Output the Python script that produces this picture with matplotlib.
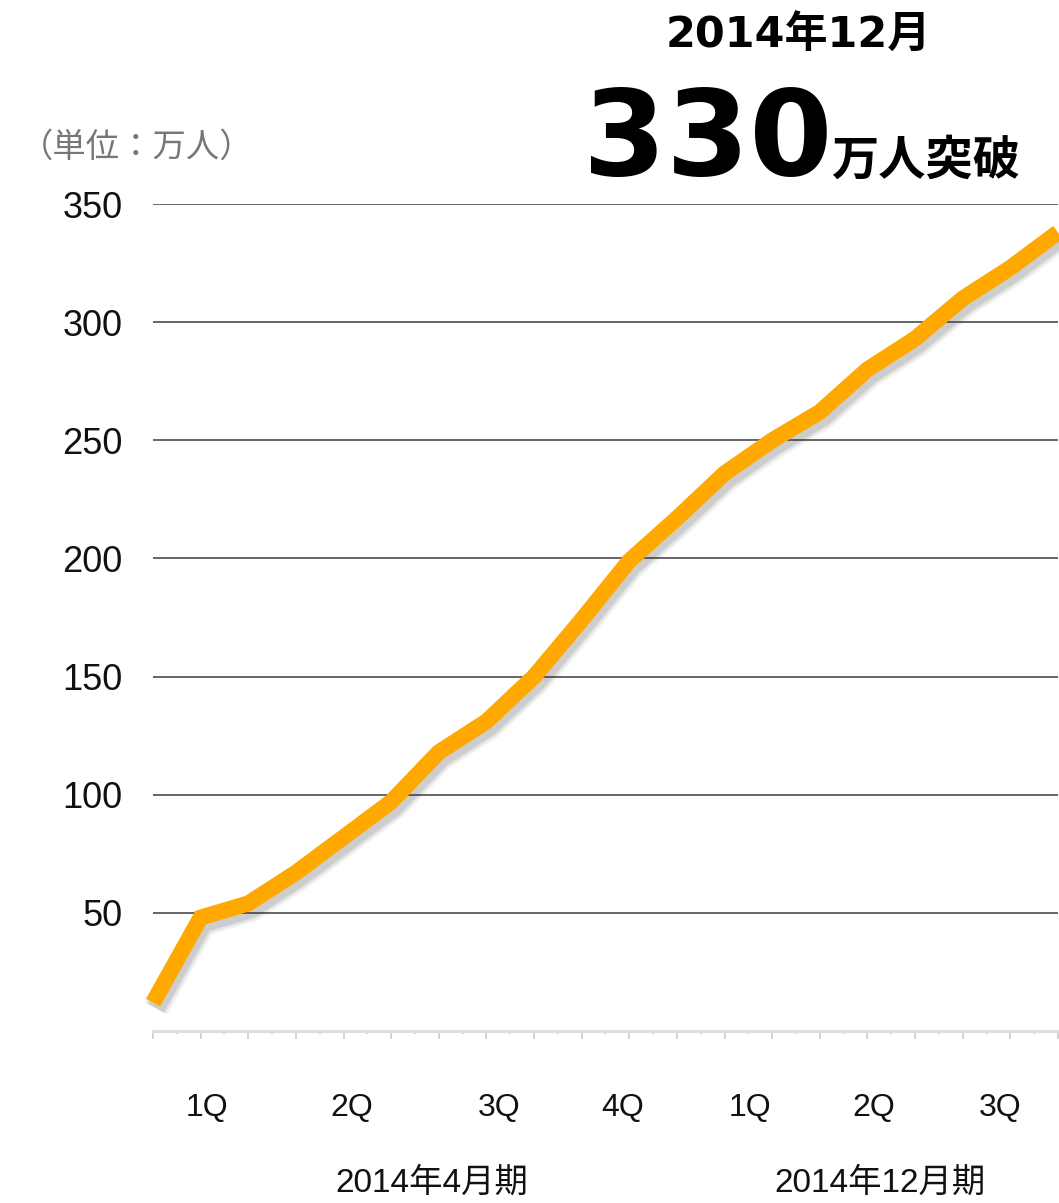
import matplotlib.pyplot as plt
import matplotlib.patheffects as pe
import matplotlib.transforms as mtransforms
import numpy as np

# monthly cumulative users (10k people)
months = np.arange(20)
users = [12, 48, 54, 67, 82, 97, 118, 131, 150, 174,
         199, 217, 236, 250, 262, 280, 293, 310, 323, 338]

y_ticks = [50, 100, 150, 200, 250, 300, 350]
quarter_labels = ['1Q', '2Q', '3Q', '4Q', '1Q', '2Q', '3Q']
quarter_pos = [1.13, 4.18, 7.26, 9.85, 12.53, 15.14, 17.78]
period_labels = ['2014年4月期', '2014年12月期']
period_pos = [5.86, 15.26]

LAT = ['Liberation Sans', 'Noto Sans CJK JP']
CJK = ['Noto Sans CJK JP', 'DejaVu Sans']
BIG = ['DejaVu Sans', 'Noto Sans CJK JP']
plt.rcParams['font.family'] = LAT

fig = plt.figure(figsize=(10.59, 12.03), dpi=100)
ax = fig.add_axes([0.1445, 0.143, 0.8545, 0.6874])

for v in y_ticks:
    ax.axhline(v, color='#5a5a5a', lw=1.3, zorder=1)

# soft shadow, built from a few wider transparent strokes
shadow = [pe.SimpleLineShadow(offset=(2, -4), shadow_color='#333333', alpha=a, linewidth=w)
          for a, w in [(0.06, 19), (0.08, 16), (0.12, 13)]]
ax.plot(months, users, color='#FFA800', lw=11.5, zorder=3,
        solid_capstyle='butt', solid_joinstyle='miter', clip_on=False,
        path_effects=shadow + [pe.Normal()])

ax.set_xlim(0, 19)
ax.set_ylim(0, 350)
for s in ['top', 'right', 'left']:
    ax.spines[s].set_visible(False)
ax.spines['bottom'].set_color('#dddddd')
ax.spines['bottom'].set_linewidth(2.2)

ax.set_yticks(y_ticks)
ax.set_yticklabels([str(v) for v in y_ticks])
ax.tick_params(axis='y', length=0, pad=22, labelsize=26, labelcolor='#111111')
ax.set_xticks(months)
ax.set_xticks(months[:-1] + 0.5, minor=True)
ax.set_xticklabels([])
ax.tick_params(axis='x', which='major', length=6, width=1.2, color='#cccccc', direction='out')
ax.tick_params(axis='x', which='minor', length=2, width=1.2, color='#cccccc', direction='out')

trans = mtransforms.blended_transform_factory(ax.transData, fig.transFigure)
for lab, p in zip(quarter_labels, quarter_pos):
    ax.text(p, 1 - 1108 / 1203, lab, transform=trans, ha='center', va='center',
            fontsize=23, color='#111111', family=LAT)
for lab, p in zip(period_labels, period_pos):
    ax.text(p, 1 - 1183 / 1203, lab, transform=trans, ha='center', va='center',
            fontsize=24, color='#111111', family=LAT)

fig.text(20 / 1059, 1 - 147 / 1203, '（単位：万人）', ha='left', va='center',
         fontsize=24, color='#777777', family=CJK)

fig.text(798 / 1059, 1 - 36 / 1203, '2014年12月', ha='center', va='center',
         fontsize=31, fontweight='bold', color='black', family=BIG)
fig.text(583 / 1059, 1 - 175 / 1203, '330', ha='left', va='baseline',
         fontsize=86, fontweight='bold', color='black', family=BIG)
fig.text(1020 / 1059, 1 - 175 / 1203, '万人突破', ha='right', va='baseline',
         fontsize=34, fontweight='bold', color='black', family=CJK)

fig.savefig('out.png', dpi=100)
